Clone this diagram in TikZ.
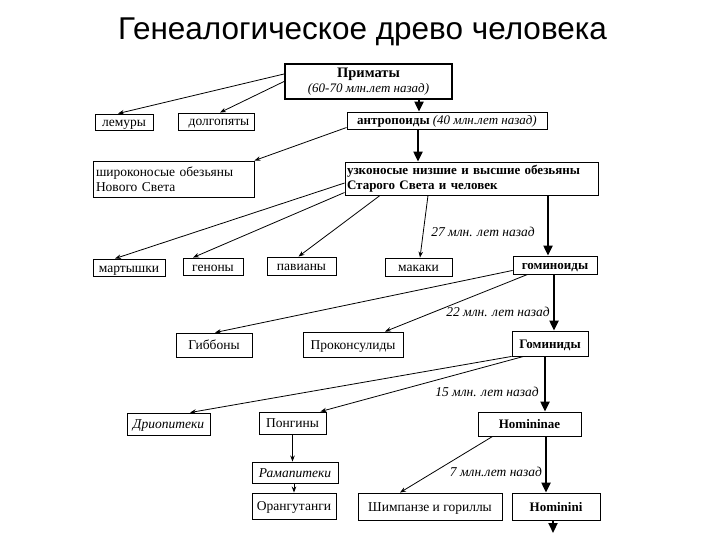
\documentclass[tikz,border=0pt]{standalone}
\usepackage{fontspec}
\setmainfont{Liberation Serif}
\newfontfamily\titlefont{Liberation Sans}
\usetikzlibrary{arrows.meta,calc}
\tikzset{
  box/.style={draw, line width=0.9pt, inner sep=0pt, text height=9pt, text depth=0pt, font=\fontsize{13.5}{15}\selectfont},
  twoline/.style={draw, line width=0.9pt, inner sep=0pt, align=left},
  thinarr/.style={draw, line width=0.8pt, -{Stealth[length=6pt,width=4.5pt]}},
  thickarr/.style={draw, line width=2.2pt, -{Triangle[length=10pt,width=9pt]}},
  lbl/.style={font=\fontsize{13.5}{15}\selectfont\itshape, inner sep=0pt}
}
\begin{document}
\begin{tikzpicture}[x=1pt,y=-1pt]
\useasboundingbox (0,0) rectangle (720,540);
\node[font=\titlefont\fontsize{31.5}{34}\selectfont] (title) at (362.5,32) {Генеалогическое древо человека};

\node[draw, line width=2pt, inner sep=0pt, minimum width=167, minimum height=35, align=center, font=\fontsize{13}{15}\selectfont] (prim) at (368.5,81.5) {{\fontsize{14.5}{16}\selectfont\bfseries Приматы}\\ \textit{(60-70 млн.лет назад)}};
\node[box, minimum width=58, minimum height=16] (lem) at (124,122) {лемуры};
\node[box, minimum width=76, minimum height=17] (dolg) at (216,121.5) {\hspace{6pt}долгопяты};
\node[box, minimum width=200, minimum height=17, font=\fontsize{13}{15}\selectfont] (antr) at (447,120.5) {\textbf{антропоиды} \textit{(40 млн.лет назад)}};
\node[twoline, minimum width=161, minimum height=36, text width=155, font=\fontsize{13.5}{15}\selectfont] (shir) at (173.5,179) {широконосые обезьяны\\Нового Света};
\node[twoline, minimum width=253, minimum height=33, text width=249, font=\bfseries\fontsize{13}{15}\selectfont] (uzk) at (471.5,178.5) {узконосые низшие и высшие обезьяны\\Старого Света и человек};
\node[box, minimum width=72, minimum height=17] (mart) at (129,267.5) {мартышки};
\node[box, minimum width=60, minimum height=17] (gen) at (213,266.5) {геноны\hspace{8pt}};
\node[box, minimum width=69, minimum height=18] (pav) at (301.5,266) {павианы};
\node[box, minimum width=67, minimum height=18] (mak) at (418.5,267) {макаки};
\node[box, minimum width=84, minimum height=18, font=\bfseries\fontsize{13}{15}\selectfont] (gmd) at (555,265) {гоминоиды};
\node[box, minimum width=76, minimum height=24] (gib) at (214,345) {Гиббоны};
\node[box, minimum width=100, minimum height=25] (prok) at (353,344.5) {Проконсулиды};
\node[box, minimum width=76, minimum height=25, font=\bfseries\fontsize{13}{15}\selectfont] (gmn) at (550,343.5) {Гоминиды};
\node[box, minimum width=83, minimum height=22, font=\itshape\fontsize{13.5}{15}\selectfont] (dri) at (168.5,424) {Дриопитеки};
\node[box, minimum width=67, minimum height=22] (pong) at (292.5,423) {Понгины};
\node[box, minimum width=103, minimum height=24, font=\bfseries\fontsize{13}{15}\selectfont] (hom) at (529.5,424) {Homininae};
\node[box, minimum width=86, minimum height=21, font=\itshape\fontsize{13.5}{15}\selectfont] (ram) at (295,472.5) {Рамапитеки};
\node[box, minimum width=84, minimum height=26] (oran) at (294,506) {Орангутанги};
\node[box, minimum width=144, minimum height=27] (shim) at (430,506.5) {Шимпанзе и гориллы};
\node[box, minimum width=88, minimum height=27, font=\bfseries\fontsize{13}{15}\selectfont] (hmni) at (556,506.5) {Hominini};

\node[lbl] (l27) at (483,232) {27 млн. лет назад};
\node[lbl] (l22) at (498,312) {22 млн. лет назад};
\node[lbl] (l15) at (487,392) {15 млн. лет назад};
\node[lbl] (l7) at (496,472) {7 млн.лет назад};

% thin connectors
\draw[thinarr] ([yshift=7.5pt]prim.west) -- ([xshift=-6pt]lem.north);
\draw[thinarr] (prim.west) -- ([xshift=4pt]dolg.north);
\draw[thinarr] ([yshift=-7pt]antr.west) -- (shir.north east);
\draw[thinarr] ([yshift=-4.5pt]uzk.west) -- ([xshift=-14pt]mart.north);
\draw[thinarr] ([yshift=-14pt]uzk.west) -- ([xshift=-20pt]gen.north);
\draw[thinarr] (uzk.south -| 380,0) -- ([xshift=-3pt]pav.north);
\draw[thinarr] (uzk.south -| 428,0) -- ([xshift=1.5pt]mak.north);
\draw[thinarr] ([yshift=4pt]gmd.south west) -- ([xshift=1pt]gib.north);
\draw[thinarr] ([xshift=15pt]gmd.south west) -- ([xshift=32pt]prok.north);
\draw[thinarr] (gmn.south west) -- ([xshift=21.5pt]dri.north);
\draw[thinarr] ([xshift=12pt]gmn.south west) -- ([xshift=-6pt]pong.north east);
\draw[thinarr] (pong.south) -- (ram.north -| pong.south);
\draw[thinarr] (ram.south -| 294,0) -- (oran.north -| 294,0);
\draw[thinarr] ([xshift=15pt]hom.south west) -- ([xshift=-30pt]shim.north);

% thick trunk
\draw[thickarr] (prim.south -| 419,0) -- (antr.north -| 419,0);
\draw[thickarr] (antr.south -| 418,0) -- (uzk.north -| 418,0);
\draw[thickarr] (uzk.south -| 548,0) -- (gmd.north -| 548,0);
\draw[thickarr] (gmd.south -| 554,0) -- (gmn.north -| 554,0);
\draw[thickarr] (gmn.south -| 545,0) -- (hom.north -| 545,0);
\draw[thickarr] (hom.south -| 546,0) -- (hmni.north -| 546,0);
\coordinate (hend) at (553,533);
\draw[thickarr] (hmni.south -| hend) -- (hend);
\end{tikzpicture}
\end{document}
